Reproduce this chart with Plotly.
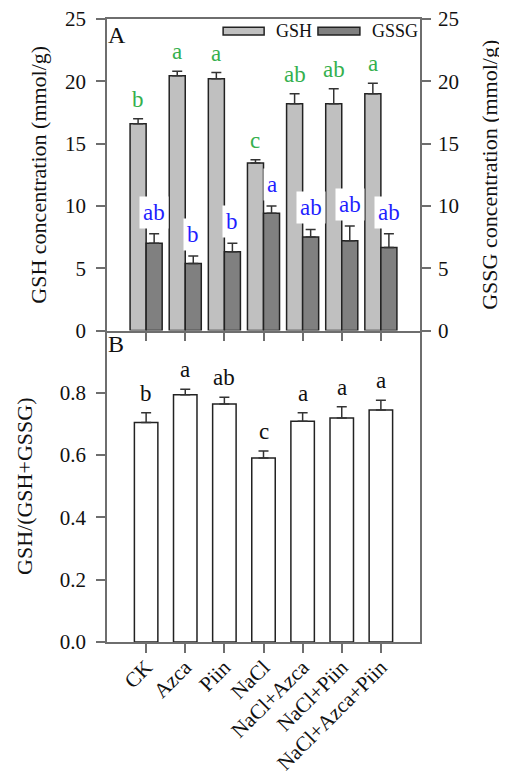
import plotly.graph_objects as go

categories = ["CK", "Azca", "Piin", "NaCl", "NaCl+Azca", "NaCl+Piin", "NaCl+Azca+Piin"]
gsh = [16.6, 20.45, 20.2, 13.45, 18.2, 18.2, 19.0]
gsh_err = [0.4, 0.35, 0.5, 0.25, 0.8, 1.2, 0.85]
gssg = [7.0, 5.38, 6.32, 9.42, 7.5, 7.2, 6.67]
gssg_err = [0.77, 0.6, 0.69, 0.57, 0.61, 1.18, 1.1]
ratio = [0.705, 0.794, 0.764, 0.591, 0.709, 0.719, 0.745]
ratio_err = [0.031, 0.017, 0.022, 0.022, 0.027, 0.036, 0.031]
gsh_letters = ["b", "a", "a", "c", "ab", "ab", "a"]
gssg_letters = ["ab", "b", "b", "a", "ab", "ab", "ab"]
ratio_letters = ["b", "a", "ab", "c", "a", "a", "a"]
y_ticks_a = [0, 5, 10, 15, 20, 25]
y_ticks_b = [0.0, 0.2, 0.4, 0.6, 0.8]
series_names = ["GSH", "GSSG"]
series_colors = ["#c0c0c0", "#808080"]

idx = list(range(len(categories)))
FONT = "Liberation Serif"
AX = "#6e6e6e"
EDGE = "#222222"
BW = 0.41

fig = go.Figure()
fig.add_trace(go.Bar(
    x=idx, y=gsh, name=series_names[0], xaxis="x", yaxis="y",
    width=BW, offset=-BW,
    marker=dict(color=series_colors[0], line=dict(color=EDGE, width=1.5)),
    error_y=dict(type="data", symmetric=False, array=gsh_err, arrayminus=[0]*7,
                 color="#333333", thickness=1.5, width=5),
))
fig.add_trace(go.Bar(
    x=idx, y=gssg, name=series_names[1], xaxis="x", yaxis="y2",
    width=BW, offset=0,
    marker=dict(color=series_colors[1], line=dict(color=EDGE, width=1.5)),
    error_y=dict(type="data", symmetric=False, array=gssg_err, arrayminus=[0]*7,
                 color="#333333", thickness=1.5, width=5),
))
fig.add_trace(go.Bar(
    x=idx, y=ratio, name="GSH/(GSH+GSSG)", xaxis="x2", yaxis="y3",
    width=0.6, offset=-0.3,
    marker=dict(color="white", line=dict(color=EDGE, width=1.5)),
    error_y=dict(type="data", symmetric=False, array=ratio_err, arrayminus=[0]*7,
                 color="#333333", thickness=1.5, width=5),
))

ann = []
for i in idx:
    ann.append(dict(x=i - BW / 2, y=gsh[i] + gsh_err[i], xref="x", yref="y",
                    text=gsh_letters[i], showarrow=False, yanchor="bottom", yshift=5,
                    font=dict(family=FONT, size=23, color="#35b04e")))
    ann.append(dict(x=i + BW / 2, y=gssg[i] + gssg_err[i], xref="x", yref="y2",
                    text=gssg_letters[i], showarrow=False, yanchor="bottom", yshift=5,
                    bgcolor="white", borderpad=3,
                    font=dict(family=FONT, size=23, color="#1f1fff")))
    ann.append(dict(x=i, y=ratio[i] + ratio_err[i], xref="x2", yref="y3",
                    text=ratio_letters[i], showarrow=False, yanchor="bottom", yshift=5,
                    font=dict(family=FONT, size=23, color="#111111")))
ann.append(dict(x=0, y=1, xref="x domain", yref="y domain", text="A",
                showarrow=False, xanchor="left", yanchor="top", xshift=-1, yshift=-1,
                font=dict(family=FONT, size=24, color="#111111")))
ann.append(dict(x=0, y=1, xref="x2 domain", yref="y3 domain", text="B",
                showarrow=False, xanchor="left", yanchor="top", xshift=-1, yshift=2,
                font=dict(family=FONT, size=24, color="#111111")))

# legend drawn in panel A (wide swatches as in the original)
legend_swatch_x = [(0.371, 0.502), (0.674, 0.808)]
legend_text_x = [0.534, 0.840]
shapes = []
for name, col, (sx0, sx1), tx in zip(series_names, series_colors, legend_swatch_x, legend_text_x):
    shapes.append(dict(type="rect", xref="x domain", yref="y domain",
                       x0=sx0, x1=sx1, y0=0.9486, y1=0.9733,
                       fillcolor=col, line=dict(color=EDGE, width=1.5)))
    ann.append(dict(x=tx, y=0.9614, xref="x domain", yref="y domain", text=name,
                    showarrow=False, xanchor="left", yanchor="middle",
                    font=dict(family=FONT, size=18, color="#111111")))

axis_common = dict(showline=True, linecolor=AX, linewidth=1.5, ticks="outside",
                   ticklen=9, tickwidth=1.5, tickcolor=AX, showgrid=False, zeroline=False,
                   automargin=False, ticklabeloverflow="allow",
                   tickfont=dict(family=FONT, size=21, color="#111111"))

# page body has an 8px margin; figure is sized/margined to compensate
fig.update_layout(
    width=499, height=768,
    margin=dict(l=99, r=87, t=11, b=134),
    paper_bgcolor="white", plot_bgcolor="white",
    font=dict(family=FONT, color="#111111"),
    barmode="overlay",
    showlegend=False,
    xaxis=dict(domain=[0, 1], anchor="y", range=[-1, 7], tickvals=idx,
               showticklabels=False, mirror=True, **axis_common),
    yaxis=dict(domain=[0.5, 1], anchor="x", range=[0, 25], tickvals=y_ticks_a,
               title=dict(text="GSH concentration (mmol/g)", standoff=12,
                          font=dict(family=FONT, size=22, color="#111111")),
               ticklabelstandoff=6, **axis_common),
    yaxis2=dict(overlaying="y", anchor="x", side="right", range=[0, 25], tickvals=y_ticks_a,
                title=dict(text="GSSG concentration (mmol/g)", standoff=24,
                           font=dict(family=FONT, size=22, color="#111111")),
                ticklabelstandoff=3, **axis_common),
    xaxis2=dict(domain=[0, 1], anchor="y3", range=[-1, 7], tickvals=idx, ticktext=categories,
                tickangle=-45, ticklabelstandoff=-6, **axis_common),
    yaxis3=dict(domain=[0, 0.5], anchor="x2", range=[0, 1.0], tickvals=y_ticks_b,
                tickformat=".1f", mirror=True,
                title=dict(text="GSH/(GSH+GSSG)", standoff=21,
                           font=dict(family=FONT, size=22, color="#111111")),
                ticklabelstandoff=6, **axis_common),
    annotations=ann,
    shapes=shapes,
)

fig.write_html("out.html")
